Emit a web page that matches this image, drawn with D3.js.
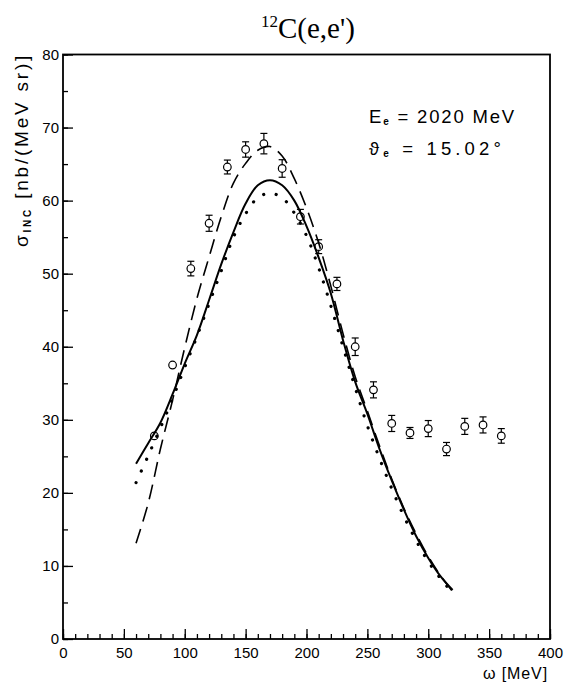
<!DOCTYPE html>
<html><head><meta charset="utf-8">
<script src="https://cdn.jsdelivr.net/npm/d3@7"></script>
<style>body{margin:0;background:#fff}svg{display:block}</style>
</head><body>
<script>
// ---- data ----
const xTicks = [0,50,100,150,200,250,300,350,400];
const yTicks = [0,10,20,30,40,50,60,70,80];
const dataOmega = [75,90,105,120,135,150,165,180,195,210,225,240,255,270,285,300,315,330,345,360];
const dataSigma = [27.8,37.5,50.7,56.9,64.6,67.0,67.8,64.4,57.8,53.7,48.6,40.0,34.1,29.5,28.2,28.8,26.0,29.1,29.3,27.8];
const dataErr   = [0.4,0.4,1.0,1.1,0.95,1.05,1.4,1.2,1.0,0.95,0.9,1.2,1.1,1.1,0.75,1.1,0.9,1.1,1.1,1.0];
const curveOmega = [60,70,80,90,100,110,120,130,140,150,160,170,180,190,200,210,220,230,240,250,260,270,280,290,300,310,320];
const solidSigma = [24.0,26.8,29.6,33.5,37.7,41.6,46.4,51.3,55.7,59.6,62.1,62.8,62.1,60.0,56.5,52.2,47.3,40.9,35.2,30.8,26.0,21.7,17.7,14.1,11.1,8.6,6.7];
const dottedSigma = [21.4,25.1,28.9,32.9,37.2,41.4,45.9,50.4,55.0,58.2,60.4,61.0,60.4,58.3,55.2,50.8,45.6,40.0,34.4,29.2,24.7,20.6,16.8,13.5,10.6,8.3,6.3];
const dashedSigma = [13.1,18.6,26.0,32.7,39.9,46.6,52.3,57.8,62.4,65.1,66.9,67.4,66.1,63.0,59.0,54.2,48.3,41.8,35.9,31.2,26.4,21.9,17.9,14.4,11.3,8.7,6.5];

const W = 565, H = 687;
const L = 63, R = 550, T = 54.5, B = 639;
const svg = d3.select("body").append("svg").attr("width", W).attr("height", H);
const x = d3.scaleLinear().domain([0,400]).range([L,R]);
const y = d3.scaleLinear().domain([0,80]).range([B,T]);

const tickFont = "'Liberation Sans', Arial, sans-serif";

// axes
const gx = svg.append("g").attr("transform", `translate(0,${B})`);
gx.call(d3.axisBottom(x).tickValues(d3.range(0,401,10)).tickSize(-5).tickFormat(""));
const gx2 = svg.append("g").attr("transform", `translate(0,${B})`);
gx2.call(d3.axisBottom(x).tickValues(xTicks).tickSize(-10).tickPadding(8).tickFormat(d3.format("d")));
const gy = svg.append("g").attr("transform", `translate(${L},0)`);
gy.call(d3.axisLeft(y).tickValues(d3.range(0,81,5)).tickSize(-5).tickFormat(""));
const gy2 = svg.append("g").attr("transform", `translate(${L},0)`);
gy2.call(d3.axisLeft(y).tickValues(yTicks).tickSize(-10).tickPadding(4).tickFormat(d3.format("d")));
svg.selectAll(".domain").remove();
svg.selectAll(".tick line").attr("stroke", "#000").attr("stroke-width", 1.3);
svg.selectAll(".tick text").attr("font-family", tickFont).attr("font-size", 15).attr("fill", "#000");

// frame
svg.append("rect").attr("x", L).attr("y", T).attr("width", R-L).attr("height", B-T)
  .attr("fill", "none").attr("stroke", "#000").attr("stroke-width", 1.8);

// curves
const line = d3.line().x((d,i)=>x(curveOmega[i])).y(d=>y(d)).curve(d3.curveCatmullRom);
svg.append("path").attr("d", line(solidSigma)).attr("fill","none").attr("stroke","#000").attr("stroke-width",2);
svg.append("path").attr("d", line(dashedSigma)).attr("fill","none").attr("stroke","#000").attr("stroke-width",1.6)
  .attr("stroke-dasharray","15 8");
svg.append("path").attr("d", line(dottedSigma)).attr("fill","none").attr("stroke","#000").attr("stroke-width",3.2)
  .attr("stroke-linecap","round").attr("stroke-dasharray","0.1 12.6");

// data points
const r = 3.8, cap = 3.5;
const pts = svg.append("g").attr("stroke","#000").attr("stroke-width",1.2);
dataOmega.forEach((w,i)=>{
  const cx = x(w), cy = y(dataSigma[i]);
  const yt = y(dataSigma[i]+dataErr[i]), yb = y(dataSigma[i]-dataErr[i]);
  if (cy - yt > r) {
    pts.append("line").attr("x1",cx).attr("x2",cx).attr("y1",yt).attr("y2",cy-r);
    pts.append("line").attr("x1",cx).attr("x2",cx).attr("y1",cy+r).attr("y2",yb);
    pts.append("line").attr("x1",cx-cap).attr("x2",cx+cap).attr("y1",yt).attr("y2",yt);
    pts.append("line").attr("x1",cx-cap).attr("x2",cx+cap).attr("y1",yb).attr("y2",yb);
  }
  pts.append("circle").attr("cx",cx).attr("cy",cy).attr("r",r).attr("fill","none");
});

function fitWidth(sel, target) {
  const n = sel.text().length;
  const w = sel.node().getComputedTextLength();
  sel.attr("letter-spacing", ((target - w) / n).toFixed(2));
}

// title
const title = svg.append("text").attr("x", 261).attr("y", 38)
  .attr("font-family","'Liberation Serif','Times New Roman',serif").attr("fill","#000");
title.append("tspan").attr("font-size",17).attr("dy",-11).text("12");
title.append("tspan").attr("font-size",29).attr("dy",11).text("C(e,e')");

// y label
const yl = svg.append("text").attr("transform","translate(28,247) rotate(-90)")
  .attr("font-family", tickFont).attr("font-size",19).attr("fill","#000");
yl.append("tspan").text("σ");
yl.append("tspan").attr("font-size",10).attr("font-weight","bold").attr("dy",3).text("INC");
yl.append("tspan").attr("dy",-3).text(" [nb/(MeV sr)]");
fitWidth(yl, 194);

// x label
const xl = svg.append("text").attr("x", 548).attr("y", 679).attr("text-anchor","end")
  .attr("font-family", tickFont).attr("font-size",16).attr("fill","#000").text("ω [MeV]");
fitWidth(xl, 65);

// annotations
const t1 = svg.append("text").attr("x",369).attr("y",123).attr("font-family",tickFont).attr("font-size",18.5).attr("fill","#000");
t1.append("tspan").text("E");
t1.append("tspan").attr("font-size",10).attr("font-weight","bold").attr("dy",2).text("e");
t1.append("tspan").attr("dy",-2).text(" = 2020 MeV");
fitWidth(t1, 147);
const t2 = svg.append("text").attr("x",369).attr("y",155).attr("font-family",tickFont).attr("font-size",18.5).attr("fill","#000");
t2.append("tspan").text("ϑ");
t2.append("tspan").attr("font-size",10).attr("font-weight","bold").attr("dy",2).text("e");
t2.append("tspan").attr("dy",-2).text(" = 15.02°");
fitWidth(t2, 136);
</script>
</body></html>
